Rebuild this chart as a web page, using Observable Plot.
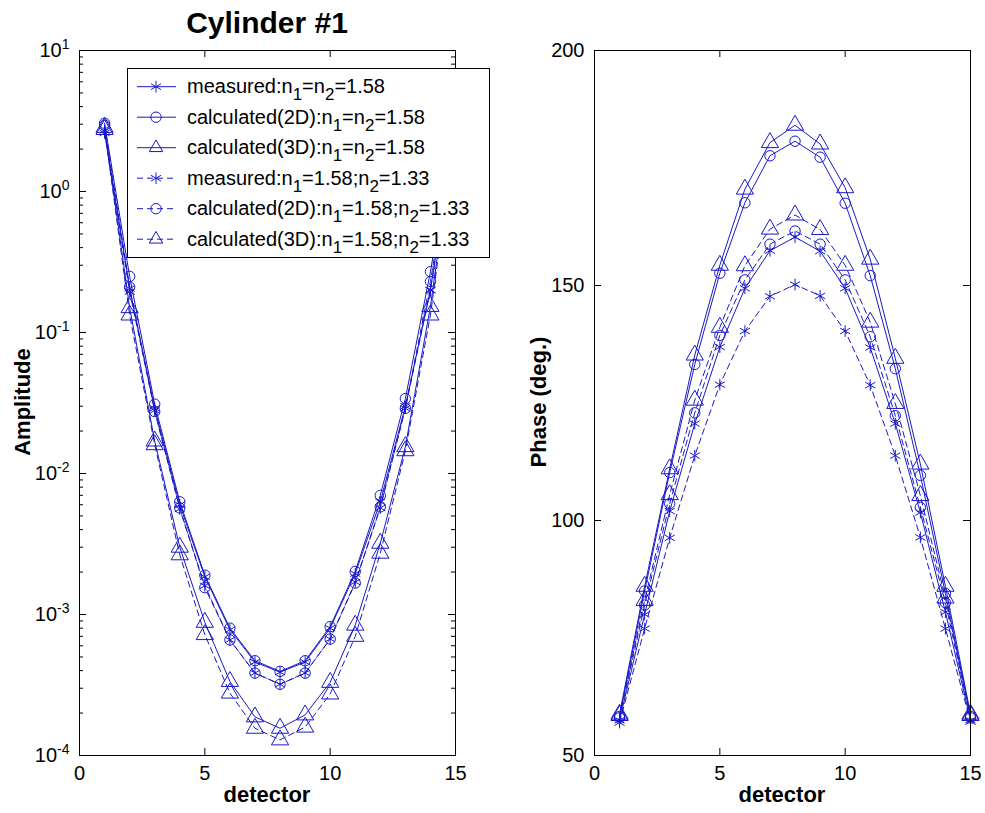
<!DOCTYPE html>
<html><head><meta charset="utf-8">
<script src="https://cdn.jsdelivr.net/npm/d3@7"></script>
<script src="https://cdn.jsdelivr.net/npm/@observablehq/plot@0.6"></script>
<style>
body{margin:0;background:#fff;}
#wrap{position:relative;width:985px;height:813px;overflow:hidden;background:#fff;font-family:"Liberation Sans",Arial,sans-serif;}
#wrap svg{position:absolute;top:0;}
</style></head><body><div id="wrap"></div>
<script>
// ---------------- data ----------------
const detector = [1,2,3,4,5,6,7,8,9,10,11,12,13,14,15];

// Amplitude (left panel)
const ampMeasured158 = [2.7, 0.205, 0.029, 6.0e-3, 1.85e-3, 7.8e-4, 4.6e-4, 3.9e-4, 4.6e-4, 8.0e-4, 1.95e-3, 6.3e-3, 0.030, 0.20, 2.8];
const ampCalc2D158   = [3.05, 0.25, 0.031, 6.3e-3, 1.9e-3, 8.0e-4, 4.7e-4, 3.95e-4, 4.7e-4, 8.2e-4, 2.02e-3, 7.0e-3, 0.034, 0.27, 3.0];
const ampCalc3D158   = [2.85, 0.15, 0.017, 3.0e-3, 8.8e-4, 3.35e-4, 1.88e-4, 1.56e-4, 1.94e-4, 3.3e-4, 8.4e-4, 3.2e-3, 0.0155, 0.153, 2.9];
const ampMeasured133 = [2.6, 0.195, 0.028, 5.6e-3, 1.6e-3, 6.6e-4, 3.85e-4, 3.2e-4, 3.85e-4, 6.7e-4, 1.7e-3, 5.7e-3, 0.029, 0.20, 2.7];
const ampCalc2D133   = [2.95, 0.21, 0.0275, 5.7e-3, 1.55e-3, 6.6e-4, 3.84e-4, 3.2e-4, 3.84e-4, 6.7e-4, 1.67e-3, 5.8e-3, 0.029, 0.23, 2.9];
const ampCalc3D133   = [2.75, 0.133, 0.016, 2.65e-3, 7.2e-4, 2.77e-4, 1.56e-4, 1.29e-4, 1.59e-4, 2.73e-4, 7.0e-4, 2.72e-3, 0.0145, 0.133, 2.8];

// Phase (right panel), degrees
const phaseMeasured158 = [57.5, 80, 102, 120.6, 136.9, 149.4, 157.4, 160.3, 157.3, 149.4, 136.8, 120.6, 101.7, 80.5, 57.5];
const phaseCalc2D158   = [58.3, 85, 110.2, 133.2, 152.6, 167.6, 177.6, 180.7, 177.3, 167.5, 152.1, 132.3, 109.6, 84.5, 58.3];
const phaseCalc3D158   = [58.8, 86, 111, 135.2, 154.3, 170.5, 180.4, 184.1, 180.1, 170.8, 155.6, 134.5, 112, 86, 58.8];
const phaseMeasured133 = [57, 77, 96.3, 113.8, 128.9, 140.3, 147.7, 150.2, 147.8, 140.3, 128.8, 113.8, 96.4, 77, 57.2];
const phaseCalc2D133   = [58, 82, 103.6, 122.9, 139.4, 151.2, 158.8, 161.6, 158.8, 151.2, 139.1, 122.3, 102.8, 82.5, 58];
const phaseCalc3D133   = [58.5, 83, 105.5, 125.6, 141.1, 154.2, 162, 165, 161.9, 154.3, 142.2, 124.9, 105.3, 83.5, 58.5];

// Legend labels (parts: [text, subscript, text, subscript, text])
const legendLabels = [
  ["measured:n","1","=n","2","=1.58"],
  ["calculated(2D):n","1","=n","2","=1.58"],
  ["calculated(3D):n","1","=n","2","=1.58"],
  ["measured:n","1","=1.58;n","2","=1.33"],
  ["calculated(2D):n","1","=1.58;n","2","=1.33"],
  ["calculated(3D):n","1","=1.58;n","2","=1.33"]
];

// Ticks
const xTicks = [0, 5, 10, 15];
const ampTicks = [1e-4, 1e-3, 1e-2, 1e-1, 1, 10];
const ampMinorTicks = [];
for (let e = -4; e < 1; e++) for (let m = 2; m <= 9; m++) ampMinorTicks.push(m * Math.pow(10, e));
const phaseTicks = [50, 100, 150, 200];

const titleText = "Cylinder #1";
const xLabel = "detector";
const ampLabel = "Amplitude";
const phaseLabel = "Phase (deg.)";

// ---------------- styling ----------------
const BLUE = "#1818c8";
const symbolOf = ["asterisk","circle","triangle","asterisk","circle","triangle"];
const dashedOf = [false,false,false,true,true,true];
const rOf = {asterisk: 5.5, circle: 5.2, triangle: 6.4};
const DASH = "6,4";

const ampSeries = [ampMeasured158, ampCalc2D158, ampCalc3D158, ampMeasured133, ampCalc2D133, ampCalc3D133];
const phaseSeries = [phaseMeasured158, phaseCalc2D158, phaseCalc3D158, phaseMeasured133, phaseCalc2D133, phaseCalc3D133];

function rowsOf(seriesArr) {
  const rows = [];
  seriesArr.forEach((vals, s) => vals.forEach((v, i) => rows.push({detector: detector[i], value: v, s})));
  return rows;
}

const FONT = "'Liberation Sans', Arial, sans-serif";
const MT = 50, MB = 58, TOTALH = 813;
const FH = TOTALH - MT - MB; // frame height 705

function panel({rows, width, ml, mr, yOpts, yTicks, yMinor, yFormat, left}) {
  const FW = width - ml - mr;
  const marks = [];
  for (let s = 0; s < 6; s++) {
    const d = rows.filter(r => r.s === s);
    marks.push(Plot.line(d, {x: "detector", y: "value", stroke: BLUE, strokeWidth: 1,
      strokeDasharray: dashedOf[s] ? DASH : null}));
  }
  for (let s = 0; s < 6; s++) {
    const d = rows.filter(r => r.s === s);
    const sym = symbolOf[s];
    marks.push(Plot.dot(d, {x: "detector", y: "value", symbol: sym, r: rOf[sym], stroke: BLUE, fill: "none", strokeWidth: 1}));
  }
  marks.push(Plot.frame({stroke: "#000", strokeWidth: 1}));
  marks.push(Plot.tickX(xTicks, {x: d => d, insetTop: FH - 7, stroke: "#000"}));
  marks.push(Plot.tickX(xTicks, {x: d => d, insetBottom: FH - 7, stroke: "#000"}));
  marks.push(Plot.tickY(yTicks, {y: d => d, insetRight: FW - 7, stroke: "#000"}));
  marks.push(Plot.tickY(yTicks, {y: d => d, insetLeft: FW - 7, stroke: "#000"}));
  if (yMinor) {
    marks.push(Plot.tickY(yMinor, {y: d => d, insetRight: FW - 4, stroke: "#000"}));
    marks.push(Plot.tickY(yMinor, {y: d => d, insetLeft: FW - 4, stroke: "#000"}));
  }
  marks.push(Plot.axisX(xTicks, {tickSize: 0, tickPadding: 10, label: null, fontSize: 20}));
  marks.push(Plot.axisY(yTicks, {tickSize: 0, tickPadding: 10, label: null, tickFormat: yFormat, fontSize: 20}));
  const svg = Plot.plot({
    width, height: TOTALH,
    marginLeft: ml, marginRight: mr, marginTop: MT, marginBottom: MB,
    x: {domain: [0, 15]},
    y: yOpts,
    style: {fontFamily: FONT, fontSize: "20px", color: "#000", background: "transparent", overflow: "visible"},
    marks
  });
  svg.style.left = left + "px";
  return svg;
}

const wrap = document.getElementById("wrap");

const leftSvg = panel({
  rows: rowsOf(ampSeries), width: 480, ml: 79, mr: 25,
  yOpts: {type: "log", domain: [1e-4, 10]},
  yTicks: ampTicks, yMinor: ampMinorTicks,
  yFormat: d => "10|" + Math.round(Math.log10(d)),
  left: 0
});
const rightSvg = panel({
  rows: rowsOf(phaseSeries), width: 505, ml: 114, mr: 15,
  yOpts: {domain: [50, 200]},
  yTicks: phaseTicks, yMinor: null,
  yFormat: d => String(d),
  left: 480
});
wrap.appendChild(leftSvg);
wrap.appendChild(rightSvg);

// superscripts for log tick labels
d3.select(leftSvg).selectAll("text").each(function() {
  const t = this.textContent;
  if (t.includes("|")) {
    const [b, e] = t.split("|");
    this.textContent = b;
    d3.select(this).append("tspan").attr("dy", "-0.55em").attr("font-size", "0.7em").text(e);
  }
});

// overlay: titles, axis labels, legend
const ov = d3.select(wrap).append("svg")
  .attr("width", 985).attr("height", 813)
  .style("left", "0px").style("font-family", FONT);

ov.append("text").attr("x", 267).attr("y", 33).attr("text-anchor", "middle")
  .attr("font-size", 30).attr("font-weight", "bold").text(titleText);
ov.append("text").attr("x", 267).attr("y", 802).attr("text-anchor", "middle")
  .attr("font-size", 22).attr("font-weight", "bold").text(xLabel);
ov.append("text").attr("x", 782).attr("y", 802).attr("text-anchor", "middle")
  .attr("font-size", 22).attr("font-weight", "bold").text(xLabel);
ov.append("text").attr("transform", "translate(30,402) rotate(-90)").attr("text-anchor", "middle")
  .attr("font-size", 22).attr("font-weight", "bold").text(ampLabel);
ov.append("text").attr("transform", "translate(546,402) rotate(-90)").attr("text-anchor", "middle")
  .attr("font-size", 22).attr("font-weight", "bold").text(phaseLabel);

// legend
const lg = ov.append("g");
lg.append("rect").attr("x", 127.5).attr("y", 68.5).attr("width", 362).attr("height", 189)
  .attr("fill", "#fff").attr("stroke", "#000").attr("stroke-width", 1);
legendLabels.forEach((parts, i) => {
  const y = 86.7 + i * 30.5;
  lg.append("line").attr("x1", 137).attr("x2", 176).attr("y1", y).attr("y2", y)
    .attr("stroke", BLUE).attr("stroke-width", 1).attr("stroke-dasharray", dashedOf[i] ? DASH : null);
  const sym = symbolOf[i];
  const shape = sym === "asterisk" ? d3.symbolAsterisk : sym === "circle" ? d3.symbolCircle : d3.symbolTriangle2;
  const rr = rOf[sym];
  lg.append("path").attr("transform", `translate(156,${y})`)
    .attr("d", d3.symbol(shape, Math.PI * rr * rr)())
    .attr("fill", "none").attr("stroke", BLUE).attr("stroke-width", 1);
  const tx = lg.append("text").attr("x", 187).attr("y", y + 6.5).attr("font-size", 20).attr("fill", "#000");
  parts.forEach((p, j) => {
    const sub = j % 2 === 1;
    tx.append("tspan").attr("dy", sub ? 7 : (j > 0 ? -7 : 0)).attr("font-size", sub ? 17 : 20).text(p);
  });
});
</script>
</body></html>
